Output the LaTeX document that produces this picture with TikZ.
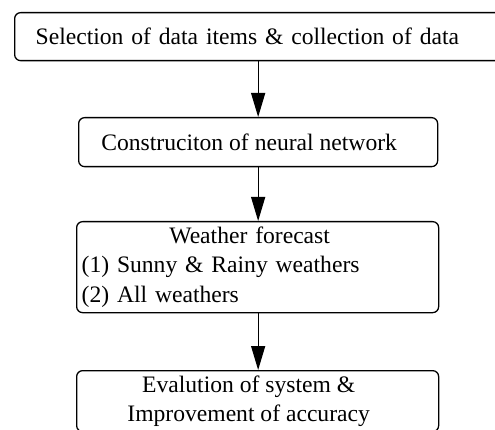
\documentclass[tikz,border=0pt]{standalone}
\usepackage{fontspec}
\setmainfont{Liberation Serif}
\usetikzlibrary{positioning,arrows.meta}

\begin{document}
\begin{tikzpicture}[
    x=1pt, y=-1pt,
    >={Triangle[length=24pt, width=14pt]},
    font=\fontsize{23.6}{29.5}\selectfont,
    box/.style={draw, line width=1.3pt, rounded corners=6pt, inner ysep=0pt},
    flow/.style={->, line width=1.3pt},
  ]
    \useasboundingbox (0,0) rectangle (495,430);
    \clip (0,0) rectangle (495,430);
    % ---------- boxes ----------
    \node[box, anchor=north west, minimum width=520pt, minimum height=48pt,
          text width=478pt, inner xsep=20pt, align=left] (sel) at (14,12)
      {Selection of data items \& collection of data};
    \node[box, anchor=north west, minimum width=359pt, minimum height=49pt] (nn) at (78,117)
      {Construciton of neural network\hspace*{18pt}};
    \node[box, anchor=north west, minimum width=362pt, minimum height=91pt,
          text width=352pt, inner xsep=5pt, align=left] (wf) at (76,221)
      {\makebox[\linewidth][c]{Weather forecast\hspace*{16pt}}\\(1) Sunny \& Rainy weathers\\(2) All weathers};
    \node[box, anchor=north west, minimum width=362pt, minimum height=61pt,
          align=center] (ev) at (76,370)
      {Evalution of system \&\hspace*{18pt}\\Improvement of accuracy\hspace*{18pt}};
    % ---------- arrows ----------
    \draw[flow] (sel.south -| nn.north) -- (nn.north);
    \draw[flow] (nn.south) -- (nn.south |- wf.north);
    \draw[flow] (nn.south |- wf.south) -- (nn.south |- ev.north);
\end{tikzpicture}
\end{document}
